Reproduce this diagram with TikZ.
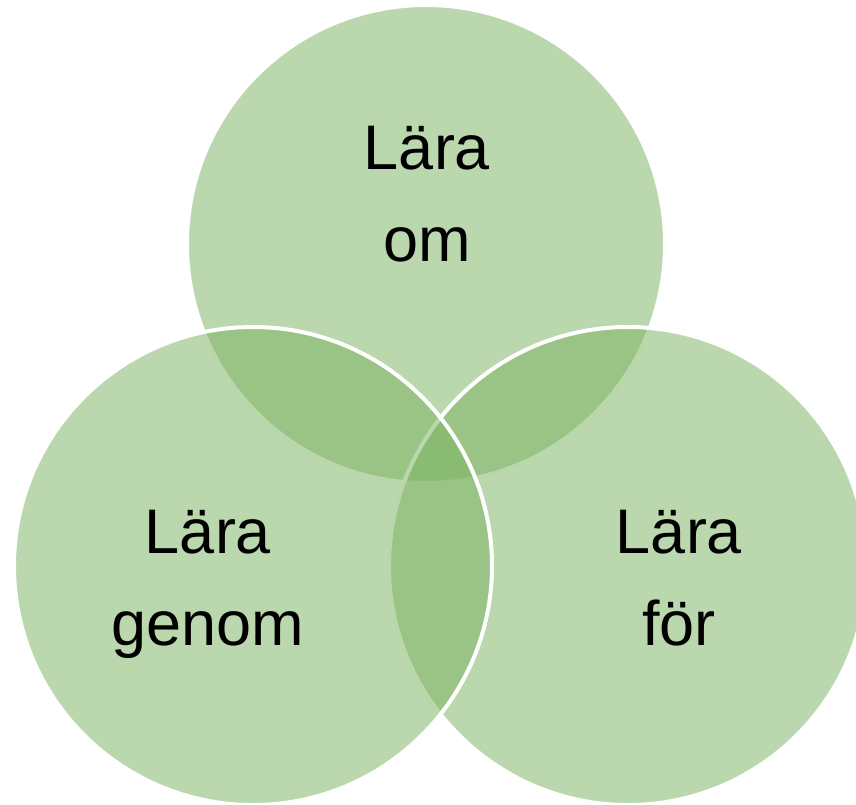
\documentclass[tikz,border=0pt]{standalone}
\usepackage{fontspec}
\setmainfont{Liberation Sans}

\definecolor{vennGreen}{RGB}{124,179,97}

\tikzset{
    venn/.style={draw=white, line width=4pt, fill=vennGreen, fill opacity=0.52},
    vennText/.style={align=center, inner sep=0pt, anchor=north, font=\fontsize{63}{92}\selectfont}
}

\begin{document}
\begin{tikzpicture}[x=1pt, y=-1pt]
    % variables
    \pgfmathsetmacro{\vRadius}{239}

    \useasboundingbox (0,0) rectangle (856,804);

    \coordinate (T) at (426,244);
    \coordinate (R) at (628,566);
    \coordinate (L) at (253,566);

    % circles, top first, left last
    \draw[venn] (T) circle (\vRadius);
    \draw[venn] (R) circle (\vRadius);
    \draw[venn] (L) circle (\vRadius);

    \node[vennText] (om) at (427,126) {Lära\\om};
    \node[vennText] (genom) at (208,510) {Lära\\genom};
    \node[vennText] (for) at (679,510) {Lära\\för};
\end{tikzpicture}
\end{document}
